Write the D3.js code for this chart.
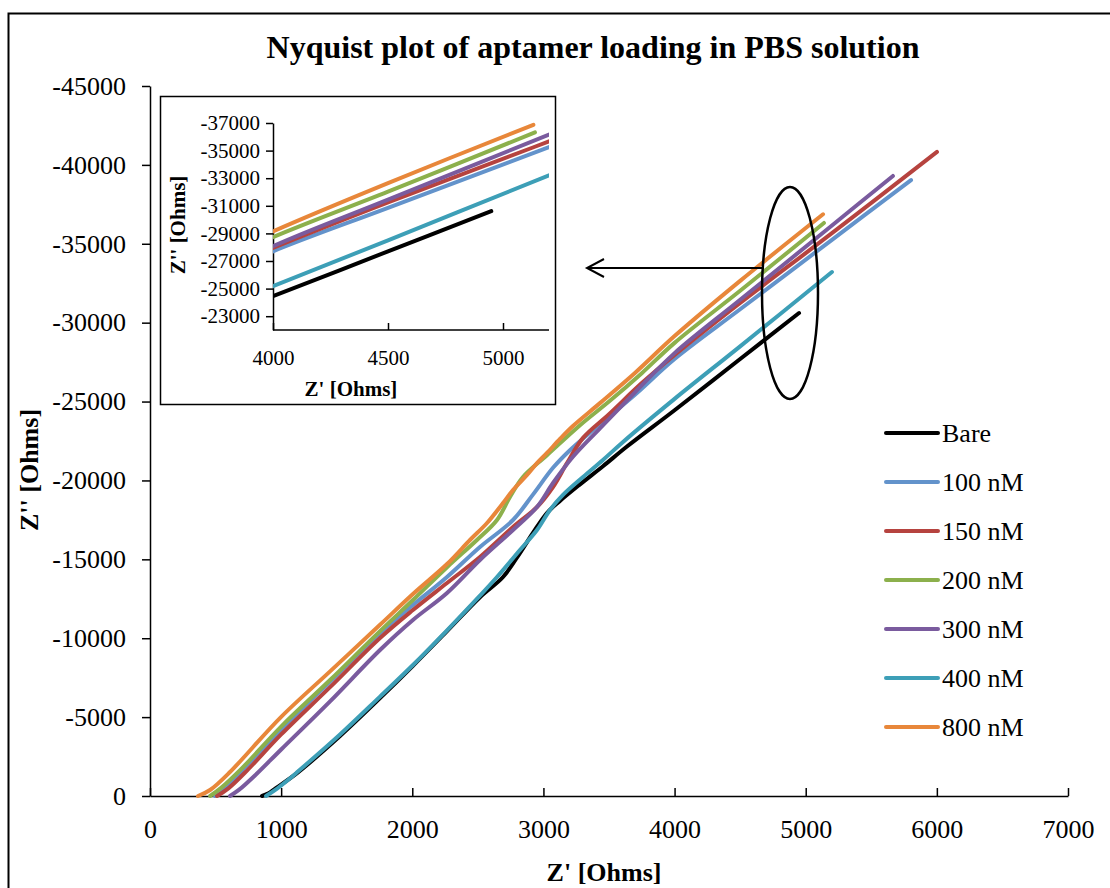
<!DOCTYPE html>
<html>
<head>
<meta charset="utf-8">
<script src="https://cdn.jsdelivr.net/npm/d3@7"></script>
<style>
  body { margin: 0; background: #fff; }
  text { font-family: "Liberation Serif", "Times New Roman", serif; fill: #000; }
</style>
</head>
<body>
<div id="chart"></div>
<script>
// series names + colours (legend order)
var seriesNames = ["Bare", "100 nM", "150 nM", "200 nM", "300 nM", "400 nM", "800 nM"];
var seriesColors = ["#000000", "#6393cb", "#b6433f", "#8cb04c", "#7a5b9e", "#3d9fb7", "#e8873a"];

// [Z', Z''] pairs (Ohms)
var bare = [[854,0],[900,-150],[960,-500],[1121,-1450],[1449,-3800],[1754,-6200],[2005,-8250],[2265,-10450],
  [2516,-12600],[2692,-13880],[2821,-15400],[2920,-16670],[3027,-17940],[3126,-18700],[3279,-19750],
  [3454,-20900],[3637,-22150],[4000,-24450],[4500,-27700],[4949,-30610]];
var nM100 = [[496,0],[560,-350],[700,-1600],[1000,-4200],[1373,-7250],[1754,-10331],[2005,-12106],[2265,-13880],
  [2516,-15782],[2768,-17493],[2920,-19100],[3073,-20800],[3200,-21900],[3400,-23350],[3700,-25450],
  [4000,-27700],[4500,-30850],[5200,-35250],[5803,-39040]];
var nM150 = [[511,0],[600,-500],[750,-1700],[1000,-3900],[1373,-6900],[1754,-10014],[2005,-11789],[2265,-13500],
  [2516,-15148],[2768,-17049],[2951,-18317],[3073,-19584],[3180,-21106],[3302,-22700],[3500,-24200],
  [3750,-26170],[4000,-27950],[4500,-31250],[5200,-35670],[6001,-40820]];
var nM200 = [[458,0],[540,-500],[700,-1750],[1000,-4400],[1373,-7350],[1754,-10450],[2005,-12420],[2265,-14500],
  [2493,-16225],[2646,-17493],[2745,-18951],[2844,-20218],[3027,-21600],[3279,-23500],[3500,-25000],
  [3750,-26800],[4000,-28720],[4500,-32020],[5139,-36320]];
var nM300 = [[610,0],[680,-400],[800,-1300],[1000,-2950],[1373,-6000],[1754,-9253],[2005,-11155],[2265,-12866],
  [2516,-14958],[2768,-16859],[2951,-18317],[3073,-19838],[3225,-21500],[3431,-23300],[3700,-25600],
  [4000,-28070],[4500,-31450],[5200,-36160],[5665,-39300]];
var nM400 = [[885,0],[950,-350],[1050,-1000],[1121,-1500],[1449,-3900],[1754,-6300],[2005,-8300],[2265,-10500],
  [2516,-12700],[2646,-13880],[2821,-15590],[2951,-16860],[3050,-18130],[3149,-19080],[3302,-20220],
  [3454,-21300],[3607,-22440],[4000,-25170],[4500,-28500],[5200,-33210]];
var nM800 = [[366,0],[458,-380],[610,-1520],[991,-4940],[1373,-7900],[1754,-10850],[2005,-12800],[2265,-14700],
  [2440,-16225],[2570,-17303],[2692,-18570],[2768,-19394],[2875,-20350],[2951,-21100],[3027,-21740],
  [3126,-22630],[3225,-23450],[3431,-24900],[3700,-26830],[4000,-29150],[4500,-32650],[5132,-36870]];
var allSeries = [bare, nM100, nM150, nM200, nM300, nM400, nM800];

// tick values
var xTicks = [0, 1000, 2000, 3000, 4000, 5000, 6000, 7000];
var yTicks = [0, -5000, -10000, -15000, -20000, -25000, -30000, -35000, -40000, -45000];
var insetXTicks = [4000, 4500, 5000];
var insetYTicks = [-23000, -25000, -27000, -29000, -31000, -33000, -35000, -37000];

var W = 1110, H = 888;
var plain = function(d){ return String(d); }; // Excel style: no thousands sep, hyphen minus
var svg = d3.select("#chart").append("svg").attr("width", W).attr("height", H);

// outer frame (runs off the right and bottom edge)
svg.append("rect").attr("x", 8.5).attr("y", 13.5).attr("width", 1200).attr("height", 1000)
  .attr("fill", "none").attr("stroke", "#000").attr("stroke-width", 2);

svg.append("text").attr("x", 593).attr("y", 58).attr("text-anchor", "middle")
  .style("font-size", "32px").style("font-weight", "bold")
  .text("Nyquist plot of aptamer loading in PBS solution");

// main scales
var x = d3.scaleLinear().domain([0, 7000]).range([150, 1068]);
var y = d3.scaleLinear().domain([0, -45000]).range([796, 86]);

var xAxis = svg.append("g").attr("transform", "translate(0,796)")
  .call(d3.axisBottom(x).tickValues(xTicks).tickFormat(plain).tickSizeInner(-8).tickSizeOuter(0).tickPadding(16));
var yAxis = svg.append("g").attr("transform", "translate(150,0)")
  .call(d3.axisLeft(y).tickValues(yTicks).tickFormat(plain).tickSize(8).tickSizeOuter(0).tickPadding(16));
[xAxis, yAxis].forEach(function(ax){
  ax.selectAll("path, line").attr("stroke", "#000").attr("stroke-width", 1.5);
  ax.selectAll("text").style("font-size", "26px").style("font-family", "Liberation Serif").attr("fill", "#000");
});
xAxis.selectAll("text").attr("dy", "1em");

svg.append("text").attr("x", 604).attr("y", 881).attr("text-anchor", "middle")
  .style("font-size", "26px").style("font-weight", "bold").text("Z' [Ohms]");
svg.append("text").attr("transform", "translate(38,470) rotate(-90)").attr("text-anchor", "middle")
  .style("font-size", "26px").style("font-weight", "bold").text("Z'' [Ohms]");

var line = d3.line().x(function(d){ return x(d[0]); }).y(function(d){ return y(d[1]); })
  .curve(d3.curveCatmullRom.alpha(0.5));

svg.append("g").selectAll("path").data(allSeries).enter().append("path")
  .attr("d", line).attr("fill", "none")
  .attr("stroke", function(d, i){ return seriesColors[i]; })
  .attr("stroke-width", 4).attr("stroke-linecap", "round").attr("stroke-linejoin", "round");

// legend
var legend = svg.append("g").selectAll("g").data(seriesNames).enter().append("g")
  .attr("transform", function(d, i){ return "translate(0," + (433 + i * 49) + ")"; });
legend.append("line").attr("x1", 886).attr("x2", 938)
  .attr("stroke", function(d, i){ return seriesColors[i]; })
  .attr("stroke-width", 4).attr("stroke-linecap", "round");
legend.append("text").attr("x", 942).attr("dy", "0.35em").style("font-size", "26px").text(function(d){ return d; });

// ellipse + arrow pointing at the inset
svg.append("ellipse").attr("cx", 790).attr("cy", 293).attr("rx", 28).attr("ry", 106)
  .attr("fill", "none").attr("stroke", "#000").attr("stroke-width", 2.5);
svg.append("line").attr("x1", 764).attr("y1", 268).attr("x2", 587).attr("y2", 268)
  .attr("stroke", "#000").attr("stroke-width", 2);
svg.append("path").attr("d", "M604,259 L587,268 L604,277").attr("fill", "none")
  .attr("stroke", "#000").attr("stroke-width", 2);

// ---- inset zoom ----
var inset = svg.append("g");
inset.append("rect").attr("x", 160.5).attr("y", 96.5).attr("width", 395).attr("height", 308)
  .attr("fill", "#fff").attr("stroke", "#000").attr("stroke-width", 1.5);

var ix = d3.scaleLinear().domain([4000, 5200]).range([273, 549]);
var iy = d3.scaleLinear().domain([-22000, -37000]).range([330, 123]);

svg.append("clipPath").attr("id", "insetClip").append("rect")
  .attr("x", 273).attr("y", 100).attr("width", 276).attr("height", 230);

var ixAxis = inset.append("g").attr("transform", "translate(0,330)")
  .call(d3.axisBottom(ix).tickValues(insetXTicks).tickFormat(plain).tickSizeInner(-7).tickSizeOuter(0).tickPadding(14));
var iyAxis = inset.append("g").attr("transform", "translate(273,0)")
  .call(d3.axisLeft(iy).tickValues(insetYTicks).tickFormat(plain).tickSize(7).tickSizeOuter(0).tickPadding(6));
[ixAxis, iyAxis].forEach(function(ax){
  ax.selectAll("path, line").attr("stroke", "#000").attr("stroke-width", 1.5);
  ax.selectAll("text").style("font-size", "21px").style("font-family", "Liberation Serif").attr("fill", "#000");
});
ixAxis.selectAll("text").attr("dy", "1em");
ixAxis.select(".domain").attr("d", "M273,0H549");

var iline = d3.line().x(function(d){ return ix(d[0]); }).y(function(d){ return iy(d[1]); })
  .curve(d3.curveCatmullRom.alpha(0.5));
inset.append("g").attr("clip-path", "url(#insetClip)").selectAll("path").data(allSeries).enter().append("path")
  .attr("d", iline).attr("fill", "none")
  .attr("stroke", function(d, i){ return seriesColors[i]; })
  .attr("stroke-width", 4).attr("stroke-linecap", "round");

inset.append("text").attr("x", 351).attr("y", 396).attr("text-anchor", "middle")
  .style("font-size", "21px").style("font-weight", "bold").text("Z' [Ohms]");
inset.append("text").attr("transform", "translate(185,225) rotate(-90)").attr("text-anchor", "middle")
  .style("font-size", "21px").style("font-weight", "bold").text("Z'' [Ohms]");
</script>
</body>
</html>
